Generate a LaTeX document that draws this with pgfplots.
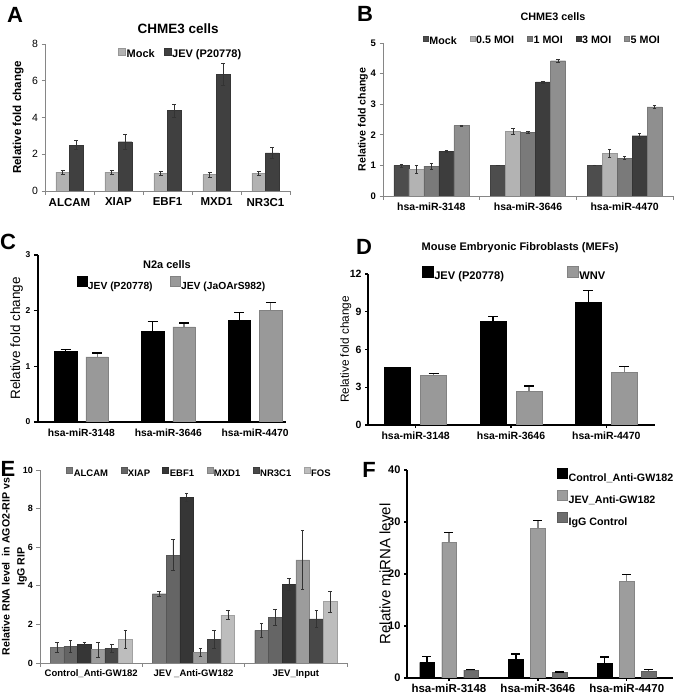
\documentclass[border=0pt]{standalone}
\usepackage{pgfplots}
\pgfplotsset{compat=1.18}
\usepackage{fontspec}
\setmainfont{Liberation Sans}
\newcommand{\fs}[1]{\fontsize{#1}{#1}\selectfont}
\definecolor{axgray}{HTML}{868686}
\definecolor{cAm}{HTML}{B2B2B2}
\definecolor{cAj}{HTML}{404040}
\definecolor{b1}{HTML}{4D4D4D}
\definecolor{b2}{HTML}{B3B3B3}
\definecolor{b3}{HTML}{7A7A7A}
\definecolor{b4}{HTML}{3D3D3D}
\definecolor{b5}{HTML}{8F8F8F}
\definecolor{pg}{HTML}{999999}
\definecolor{e1}{HTML}{7A7A7A}
\definecolor{e2}{HTML}{656565}
\definecolor{e3}{HTML}{363636}
\definecolor{e4}{HTML}{9C9C9C}
\definecolor{e5}{HTML}{484848}
\definecolor{e6}{HTML}{BDBDBD}
\definecolor{f2}{HTML}{9D9D9D}
\definecolor{f3}{HTML}{6E6E6E}
\def\sqsize{7pt}
\pgfplotsset{
  panel/.style={scale only axis, ymin=0, enlargelimits=false,
    axis x line*=bottom, axis y line*=left, ytick pos=left, tick align=outside,
    /pgf/number format/assume math mode=true,
    legend cell align=left,
    legend style={draw=none, fill=none, inner sep=0pt, nodes={inner sep=1pt}},
    error bars/y explicit},
  excel/.style={panel, axis line style={draw=axgray, line width=0.7pt, -},
    tick style={draw=axgray, line width=0.7pt}, major tick length=3.5pt, minor tick length=4pt,
    major x tick style={draw=none},
    error bars/y dir=both,
    error bars/error bar style={line width=0.5pt, draw=black!80},
    error bars/error mark options={rotate=90, line width=0.5pt, mark size=1.8pt, draw=black!80}},
  prism/.style={panel, axis line style={line width=1.3pt, -},
    tick style={draw=black, line width=1.3pt}, major tick length=4pt,
    error bars/y dir=plus,
    error bars/error bar style={line width=1.3pt},
    error bars/error mark options={rotate=90, line width=1.3pt, mark size=5pt}},
  mybar/.style 2 args={fill=#1, draw=#2, line width=0.4pt,
    legend image code/.code={\fill[fill=#1] (0pt,0pt) rectangle (\sqsize,\sqsize);}},
}
\begin{document}
\begin{tikzpicture}
\useasboundingbox (0,0) rectangle (685pt,696pt);

% ---------------- A
\def\sqsize{7pt}
\begin{axis}[excel, at={(45pt,505pt)}, anchor=south west, width=245pt, height=147pt,
  ybar=0pt, bar width=13.5pt,
  xmin=-0.5, xmax=4.5, ymax=8, ytick={0,2,...,8}, xtick={0,...,4},
  minor xtick={-0.5,0.5,...,4.5},
  xticklabels={ALCAM,XIAP,EBF1,MXD1,NR3C1},
  x tick label style={font=\bfseries\fs{11.5}},
  y tick label style={font=\fs{10.5}},
  ylabel={Relative fold change},
  ylabel style={font=\bfseries\fs{11.6}, at={(axis description cs:-0.110,0.5)}, anchor=center},
  title={CHME3 cells},
  title style={font=\bfseries\fs{13.5}, at={(axis description cs:0.543,1.061)}, anchor=center},
  legend columns=-1,
  legend style={at={(axis description cs:0.552,0.932)}, anchor=center, font=\bfseries\fs{11},
    /tikz/every even column/.append style={column sep=8pt}},
]
\addplot[mybar={cAm}{cAm!85!black}] coordinates {
  (0,1.03) +- (0,0.1) (1,1.03) +- (0,0.1) (2,0.96) +- (0,0.1) (3,0.89) +- (0,0.12) (4,0.97) +- (0,0.1)};
\addplot[mybar={cAj}{cAj!85!black}] coordinates {
  (0,2.50) +- (0,0.25) (1,2.68) +- (0,0.4) (2,4.37) +- (0,0.35) (3,6.35) +- (0,0.62) (4,2.08) +- (0,0.28)};
\legend{Mock, JEV (P20778)}
\end{axis}

% ---------------- B
\def\sqsize{5pt}
\begin{axis}[excel, at={(383pt,500pt)}, anchor=south west, width=290pt, height=153pt,
  ybar=0pt, bar width=15pt,
  xmin=-0.5, xmax=2.5, ymax=5, ytick={0,...,5}, xtick={0,1,2},
  minor xtick={-0.5,0.5,1.5,2.5},
  xticklabels={hsa-miR-3148,hsa-miR-3646,hsa-miR-4470},
  x tick label style={font=\bfseries\fs{10.5}},
  y tick label style={font=\bfseries\fs{9.5}},
  ylabel={Relative fold change},
  ylabel style={font=\bfseries\fs{10.6}, at={(axis description cs:-0.069,0.5)}, anchor=center},
  title={CHME3 cells},
  title style={font=\bfseries\fs{10.8}, at={(axis description cs:0.586,1.131)}, anchor=center},
  legend columns=-1,
  legend style={at={(axis description cs:0.548,1.013)}, anchor=center, font=\bfseries\fs{10.7},
    /tikz/every even column/.append style={column sep=12pt}},
]
\addplot[mybar={b1}{b1!85!black}] coordinates {
  (0,1.00) +- (0,0.05) (1,1.00) +- (0,0.01) (2,1.01) +- (0,0.01)};
\addplot[mybar={b2}{b2!85!black}] coordinates {
  (0,0.87) +- (0,0.12) (1,2.11) +- (0,0.10) (2,1.40) +- (0,0.13)};
\addplot[mybar={b3}{b3!85!black}] coordinates {
  (0,0.98) +- (0,0.10) (1,2.08) +- (0,0.03) (2,1.24) +- (0,0.05)};
\addplot[mybar={b4}{b4!85!black}] coordinates {
  (0,1.46) +- (0,0.02) (1,3.73) +- (0,0.03) (2,1.97) +- (0,0.07)};
\addplot[mybar={b5}{b5!85!black}] coordinates {
  (0,2.30) +- (0,0.02) (1,4.42) +- (0,0.04) (2,2.91) +- (0,0.05)};
\legend{Mock, 0.5 MOI, 1 MOI, 3 MOI, 5 MOI}
\end{axis}

% ---------------- C
\def\sqsize{10pt}
\begin{axis}[prism, at={(38pt,274pt)}, anchor=south west, width=248pt, height=167pt,
  ybar=9pt, bar width=22.5pt,
  xmin=-0.5, xmax=2.356, ymax=3, ytick={0,...,3}, xtick={0,1,2},
  major x tick style={draw=none},
  xticklabels={hsa-miR-3148,hsa-miR-3646,hsa-miR-4470},
  x tick label style={font=\bfseries\fs{10.3}},
  y tick label style={font=\bfseries\fs{8.5}},
  ylabel={Relative fold change},
  ylabel style={font=\fs{13.5}, at={(axis description cs:-0.086,0.5)}, anchor=center},
  title={N2a cells},
  title style={font=\bfseries\fs{11}, at={(axis description cs:0.52,0.904)}, anchor=center},
  legend columns=-1,
  legend style={at={(axis description cs:0.538,0.826)}, anchor=center, font=\bfseries\fs{10.3},
    /tikz/every even column/.append style={column sep=16pt}},
]
\addplot[mybar={black}{black}] coordinates {
  (0,1.27) +- (0,0.03) (1,1.63) +- (0,0.17) (2,1.83) +- (0,0.14)};
\addplot[mybar={pg}{pg!85!black}] coordinates {
  (0,1.17) +- (0,0.07) (1,1.71) +- (0,0.07) (2,2.00) +- (0,0.15)};
\legend{JEV (P20778), JEV (JaOArS982)}
\end{axis}

% ---------------- D
\def\sqsize{11pt}
\begin{axis}[prism, at={(368pt,271pt)}, anchor=south west, width=287pt, height=151pt,
  ybar=10pt, bar width=26pt,
  xmin=-0.5, xmax=2.51, ymax=12, ytick={0,3,...,12}, xtick={0,1,2},
  major tick length=3pt,
  xticklabels={hsa-miR-3148,hsa-miR-3646,hsa-miR-4470},
  x tick label style={font=\bfseries\fs{10.5}},
  y tick label style={font=\bfseries\fs{10.5}},
  ylabel={Relative fold change},
  ylabel style={font=\fs{11.8}, at={(axis description cs:-0.077,0.5)}, anchor=center},
  title={Mouse Embryonic Fibroblasts (MEFs)},
  title style={font=\bfseries\fs{11}, at={(axis description cs:0.53,1.132)}, anchor=center},
  legend columns=-1,
  legend style={at={(axis description cs:0.509,1.0)}, anchor=center, font=\bfseries\fs{11.1},
    /tikz/every even column/.append style={column sep=62pt}},
]
\addplot[mybar={black}{black}] coordinates {
  (0,4.57) +- (0,0.02) (1,8.23) +- (0,0.40) (2,9.77) +- (0,0.90)};
\addplot[mybar={pg}{pg!85!black}] coordinates {
  (0,3.93) +- (0,0.18) (1,2.65) +- (0,0.45) (2,4.19) +- (0,0.46)};
\legend{JEV (P20778), WNV}
\end{axis}

% ---------------- E
\def\sqsize{6pt}
\begin{axis}[excel, at={(40pt,33pt)}, anchor=south west, width=307pt, height=193pt,
  ybar=0pt, bar width=13.7pt,
  xmin=-0.5, xmax=2.5, ymax=10, ytick={0,2,...,10}, xtick={0,1,2},
  minor xtick={-0.5,0.5,1.5,2.5},
  xticklabels={Control\_Anti-GW182,JEV \_Anti-GW182,JEV\_Input},
  x tick label style={font=\bfseries\fs{9.5}},
  y tick label style={font=\bfseries\fs{9}},
  ylabel={Relative RNA level \ in AGO2-RIP vs\\IgG RIP},
  ylabel style={font=\bfseries\fontsize{10.6}{15}\selectfont, align=center,
    at={(axis description cs:-0.083,0.5)}, anchor=center},
  legend columns=-1,
  legend style={at={(axis description cs:0.518,0.984)}, anchor=center, font=\bfseries\fs{9.5},
    /tikz/every even column/.append style={column sep=11.4pt}},
]
\addplot[mybar={e1}{e1!85!black}] coordinates {
  (0,0.81) +- (0,0.25) (1,3.59) +- (0,0.15) (2,1.69) +- (0,0.38)};
\addplot[mybar={e2}{e2!85!black}] coordinates {
  (0,0.86) +- (0,0.30) (1,5.59) +- (0,0.80) (2,2.36) +- (0,0.40)};
\addplot[mybar={e3}{e3!85!black}] coordinates {
  (0,0.95) +- (0,0.12) (1,8.60) +- (0,0.20) (2,4.07) +- (0,0.31)};
\addplot[mybar={e4}{e4!85!black}] coordinates {
  (0,0.69) +- (0,0.37) (1,0.54) +- (0,0.21) (2,5.34) +- (0,1.52)};
\addplot[mybar={e5}{e5!85!black}] coordinates {
  (0,0.76) +- (0,0.20) (1,1.24) +- (0,0.45) (2,2.29) +- (0,0.45)};
\addplot[mybar={e6}{e6!85!black}] coordinates {
  (0,1.24) +- (0,0.47) (1,2.48) +- (0,0.23) (2,3.19) +- (0,0.55)};
\legend{ALCAM, XIAP, EBF1, MXD1, NR3C1, FOS}
\end{axis}

% ---------------- F
\def\sqsize{10pt}
\begin{axis}[prism, at={(407pt,18pt)}, anchor=south west, width=266pt, height=208pt,
  ybar=7.5pt, bar width=14.5pt,
  xmin=-0.472, xmax=2.52, ymax=40, ytick={0,10,...,40}, xtick={0,1,2},
  major tick length=3pt,
  error bars/error mark options={rotate=90, line width=1.3pt, mark size=4.5pt},
  xticklabels={hsa-miR-3148,hsa-miR-3646,hsa-miR-4470},
  x tick label style={font=\bfseries\fs{11.5}},
  y tick label style={font=\bfseries\fs{11}},
  ylabel={Relative miRNA level},
  ylabel style={font=\fs{15}, at={(axis description cs:-0.083,0.5)}, anchor=center},
  legend style={at={(axis description cs:0.564,1.01)}, anchor=north west, font=\bfseries\fs{10.7},
    row sep=6pt},
]
\addplot[mybar={black}{black}] coordinates {
  (0,3.0) +- (0,1.2) (1,3.6) +- (0,1.0) (2,2.75) +- (0,1.3)};
\addplot[mybar={f2}{f2!85!black}] coordinates {
  (0,26.1) +- (0,1.9) (1,28.8) +- (0,1.5) (2,18.56) +- (0,1.3)};
\addplot[mybar={f3}{f3!85!black}] coordinates {
  (0,1.5) +- (0,0.1) (1,1.09) +- (0,0.05) (2,1.34) +- (0,0.3)};
\legend{Control\_Anti-GW182, JEV\_Anti-GW182, IgG Control}
\end{axis}

% panel letters
\node[font=\bfseries\fs{22}] at (15pt,681pt) {A};
\node[font=\bfseries\fs{22}] at (365pt,682pt) {B};
\node[font=\bfseries\fs{22}] at (8pt,454pt) {C};
\node[font=\bfseries\fs{22}] at (364pt,449pt) {D};
\node[font=\bfseries\fs{22}] at (8pt,227pt) {E};
\node[font=\bfseries\fs{22}] at (369pt,226pt) {F};
\end{tikzpicture}
\end{document}
